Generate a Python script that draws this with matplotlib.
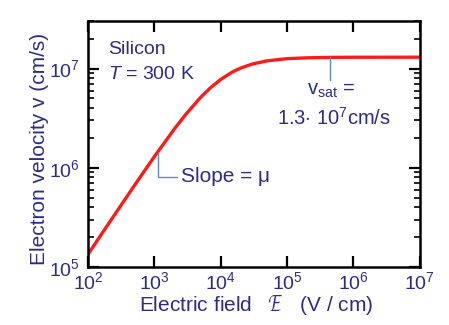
import numpy as np
import matplotlib.pyplot as plt

plt.rcParams['font.family'] = ['Liberation Sans', 'DejaVu Sans']
plt.rcParams['mathtext.fontset'] = 'custom'
plt.rcParams['mathtext.rm'] = 'Liberation Sans'
plt.rcParams['mathtext.it'] = 'Liberation Sans:italic'

# electric field (V/cm) and electron velocity (cm/s)
field = [1e2, 2e2, 5e2, 1e3, 2e3, 3e3, 5e3, 7e3, 1e4, 1.5e4, 2e4, 3e4,
         5e4, 1e5, 2e5, 5e5, 1e6, 1e7]
velocity = [1.347e5, 2.687e5, 6.64e5, 1.298e6, 2.46e6, 3.48e6, 5.14e6, 6.40e6,
            7.77e6, 9.23e6, 1.011e7, 1.11e7, 1.195e7, 1.257e7, 1.281e7, 1.295e7,
            1.298e7, 1.3e7]

txt = '#2e2b88'
red = '#ff1a1a'
guide = '#5a8ccc'

fig = plt.figure(figsize=(4.49, 3.25), dpi=100)
ax = fig.add_axes([0.196, 0.178, 0.739, 0.757])

ax.plot(field, velocity, color=red, lw=2.4, solid_joinstyle='round')
ax.set_xscale('log')
ax.set_yscale('log')
ax.set_xlim(1e2, 1e7)
ax.set_ylim(1e5, 3e7)

for s in ax.spines.values():
    s.set_linewidth(1.8)
ax.tick_params(which='both', direction='in', top=True, right=True,
               labelsize=14, labelcolor=txt)
ax.tick_params(which='major', length=8, width=1.6)
ax.tick_params(axis='y', which='major', pad=6)
ax.tick_params(axis='x', which='major', pad=3)
ax.tick_params(which='minor', length=4.5, width=1.2)
ax.set_xticks([1e2, 1e3, 1e4, 1e5, 1e6, 1e7])
ax.set_yticks([1e5, 1e6, 1e7])

ax.set_xlabel(r'Electric field   $\mathcal{E}$   (V / cm)', color=txt, fontsize=15,
              labelpad=0, x=0.505)
ax.set_ylabel('Electron velocity v (cm/s)', color=txt, fontsize=15, labelpad=0, y=0.48)

ax.text(0.06, 0.885, 'Silicon', transform=ax.transAxes, color=txt, fontsize=14, va='center')
ax.text(0.06, 0.785, r'$T$ = 300 K', transform=ax.transAxes, color=txt, fontsize=14, va='center')

# v_sat marker
ax.plot([4.4e5, 4.4e5], [1.3e7, 7.7e6], color=guide, lw=1)
ax.text(4.6e5, 6.0e6, r'v$_{\rm sat}$ =', color=txt, fontsize=14.5, ha='center', va='center')
ax.text(5.0e5, 3.2e6, r'1.3$\cdot$ 10$^{7}$cm/s', color=txt, fontsize=14.5, ha='center', va='center')

# slope marker
ax.plot([1.15e3, 1.15e3, 2.2e3], [1.4e6, 8.1e5, 8.1e5], color=guide, lw=1)
ax.text(2.5e3, 8.1e5, 'Slope = μ', color=txt, fontsize=15, va='center')

fig.savefig('out.png', dpi=100)
